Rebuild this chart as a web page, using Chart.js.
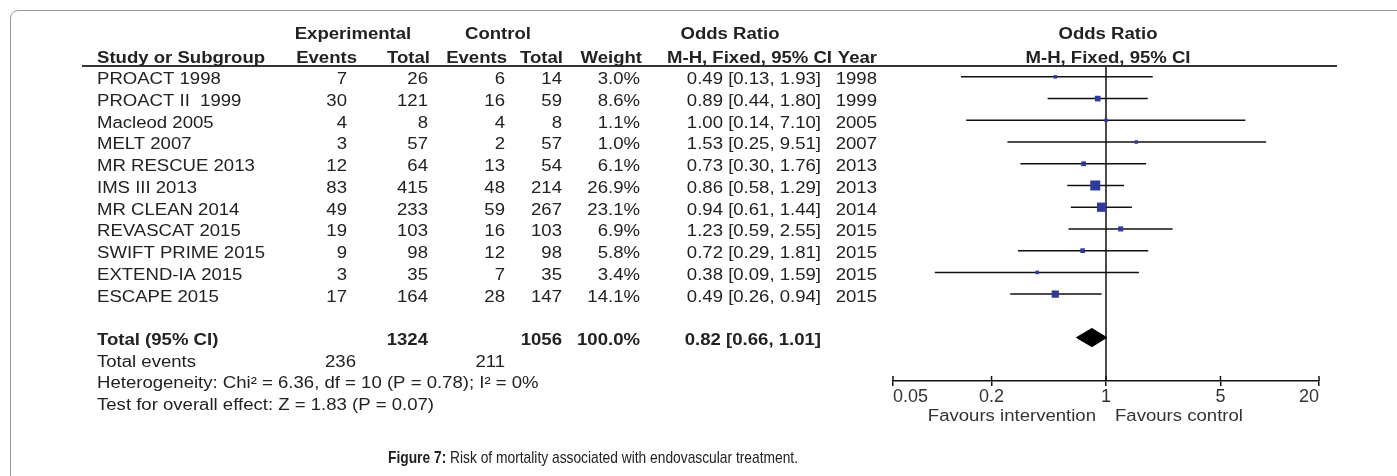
<!DOCTYPE html>
<html>
<head>
<meta charset="utf-8">
<script src="https://cdn.jsdelivr.net/npm/chart.js@4.4.1/dist/chart.umd.min.js"></script>
<style>
  html, body { margin: 0; padding: 0; background: #fff; }
  #wrap { position: relative; width: 1397px; height: 476px; overflow: hidden; }
  #frame { position: absolute; left: 10px; top: 10px; width: 1420px; height: 500px;
           border: 1px solid #9a9a9a; border-radius: 8px; }
  #forest { position: absolute; left: 0; top: 0; }
</style>
</head>
<body>
<div id="wrap">
  <div id="frame"></div>
  <canvas id="forest" width="1397" height="476"></canvas>
</div>
<script>
const studies = ['PROACT 1998', 'PROACT II  1999', 'Macleod 2005', 'MELT 2007', 'MR RESCUE 2013',
  'IMS III 2013', 'MR CLEAN 2014', 'REVASCAT 2015', 'SWIFT PRIME 2015', 'EXTEND-IA 2015', 'ESCAPE 2015']
const expEvents = [7, 30, 4, 3, 12, 83, 49, 19, 9, 3, 17]
const expTotal = [26, 121, 8, 57, 64, 415, 233, 103, 98, 35, 164]
const ctrlEvents = [6, 16, 4, 2, 13, 48, 59, 16, 12, 7, 28]
const ctrlTotal = [14, 59, 8, 57, 54, 214, 267, 103, 98, 35, 147]
const weights = [3.0, 8.6, 1.1, 1.0, 6.1, 26.9, 23.1, 6.9, 5.8, 3.4, 14.1]
const oddsRatio = [0.49, 0.89, 1.00, 1.53, 0.73, 0.86, 0.94, 1.23, 0.72, 0.38, 0.49]
const ciLow = [0.13, 0.44, 0.14, 0.25, 0.30, 0.58, 0.61, 0.59, 0.29, 0.09, 0.26]
const ciHigh = [1.93, 1.80, 7.10, 9.51, 1.76, 1.29, 1.44, 2.55, 1.81, 1.59, 0.94]
const years = [1998, 1999, 2005, 2007, 2013, 2013, 2014, 2015, 2015, 2015, 2015]

// pooled result: [OR, low, high]
const pooled = [0.82, 0.66, 1.01]
const pooledTotals = [1324, 1056]
const pooledEvents = [236, 211]
const heterogeneity = 'Heterogeneity: Chi\u00b2 = 6.36, df = 10 (P = 0.78); I\u00b2 = 0%'
const overallEffect = 'Test for overall effect: Z = 1.83 (P = 0.07)'

const xTicks = [0.05, 0.2, 1, 5, 20]

const FONT = '"Liberation Sans", Arial, sans-serif'
const INK = '#222'
const totalRow = studies.length + 1

function txt(ctx, s, x, y, align, bold, size, sx, color) {
  ctx.save()
  ctx.font = (bold ? 'bold ' : '') + size + 'px ' + FONT
  ctx.fillStyle = color || INK
  ctx.textBaseline = 'middle'
  ctx.textAlign = align
  ctx.translate(x, y)
  ctx.scale(sx, 1)
  ctx.fillText(s, 0, 0)
  ctx.restore()
}

const f2 = v => v.toFixed(2)
const orText = (o, l, h) => f2(o) + ' [' + f2(l) + ', ' + f2(h) + ']'

// table, headers and footers drawn next to the plot
const forestTable = {
  id: 'forestTable',
  afterDraw(chart) {
    const ctx = chart.ctx
    const ys = chart.scales.y
    const xs = chart.scales.x
    const area = chart.chartArea
    const rowY = r => ys.getPixelForValue(r) + 3
    const S = 16, K = 1.16

    // header line
    ctx.save()
    ctx.strokeStyle = '#333'
    ctx.lineWidth = 2
    ctx.beginPath()
    ctx.moveTo(82, area.top)
    ctx.lineTo(1337, area.top)
    ctx.stroke()
    // upper half of the axis ticks
    ctx.strokeStyle = '#111'
    ctx.lineWidth = 1.5
    xTicks.forEach(t => {
      const px = xs.getPixelForValue(t)
      ctx.beginPath()
      ctx.moveTo(px, area.bottom - 5)
      ctx.lineTo(px, area.bottom)
      ctx.stroke()
    })
    ctx.restore()

    const h1 = ys.getPixelForValue(-2.1) + 3
    const h2 = rowY(-1)
    txt(ctx, 'Experimental', 353, h1, 'center', true, S, K)
    txt(ctx, 'Control', 498, h1, 'center', true, S, K)
    txt(ctx, 'Odds Ratio', 730, h1, 'center', true, S, K)
    txt(ctx, 'Odds Ratio', 1108, h1, 'center', true, S, K)
    txt(ctx, 'Study or Subgroup', 97, h2, 'left', true, S, K)
    txt(ctx, 'Events', 357, h2, 'right', true, S, K)
    txt(ctx, 'Total', 430, h2, 'right', true, S, K)
    txt(ctx, 'Events', 507, h2, 'right', true, S, K)
    txt(ctx, 'Total', 563, h2, 'right', true, S, K)
    txt(ctx, 'Weight', 642, h2, 'right', true, S, K)
    txt(ctx, 'M-H, Fixed, 95% CI', 667, h2, 'left', true, S, K)
    txt(ctx, 'Year', 877, h2, 'right', true, S, K)
    txt(ctx, 'M-H, Fixed, 95% CI', 1108, h2, 'center', true, S, K)

    studies.forEach((s, i) => {
      const y = rowY(i)
      txt(ctx, s, 97, y, 'left', false, S, K)
      txt(ctx, String(expEvents[i]), 347, y, 'right', false, S, K)
      txt(ctx, String(expTotal[i]), 428, y, 'right', false, S, K)
      txt(ctx, String(ctrlEvents[i]), 505, y, 'right', false, S, K)
      txt(ctx, String(ctrlTotal[i]), 562, y, 'right', false, S, K)
      txt(ctx, weights[i].toFixed(1) + '%', 640, y, 'right', false, S, K)
      txt(ctx, orText(oddsRatio[i], ciLow[i], ciHigh[i]), 821, y, 'right', false, S, K)
      txt(ctx, String(years[i]), 877, y, 'right', false, S, K)
    })

    const yt = rowY(totalRow)
    txt(ctx, 'Total (95% CI)', 97, yt, 'left', true, S, K)
    txt(ctx, String(pooledTotals[0]), 428, yt, 'right', true, S, K)
    txt(ctx, String(pooledTotals[1]), 562, yt, 'right', true, S, K)
    txt(ctx, '100.0%', 640, yt, 'right', true, S, K)
    txt(ctx, orText(pooled[0], pooled[1], pooled[2]), 821, yt, 'right', true, S, K)

    const ye = rowY(totalRow + 1)
    txt(ctx, 'Total events', 97, ye, 'left', false, S, K)
    txt(ctx, String(pooledEvents[0]), 356, ye, 'right', false, S, K)
    txt(ctx, String(pooledEvents[1]), 505, ye, 'right', false, S, K)
    txt(ctx, heterogeneity, 97, rowY(totalRow + 2), 'left', false, S, K)
    txt(ctx, overallEffect, 97, rowY(totalRow + 3), 'left', false, S, K)

    const one = xs.getPixelForValue(1)
    txt(ctx, 'Favours intervention', one - 10, area.bottom + 36, 'right', false, S, K, '#333')
    txt(ctx, 'Favours control', one + 9, area.bottom + 36, 'left', false, S, K, '#333')

    // caption, squeezed to its width in the reference
    ctx.save()
    const a = 'Figure 7:', b = ' Risk of mortality associated with endovascular treatment.'
    ctx.font = 'bold 17px ' + FONT
    const wa = ctx.measureText(a).width
    ctx.font = '17px ' + FONT
    const wb = ctx.measureText(b).width
    const k = 410 / (wa + wb)
    ctx.restore()
    txt(ctx, a, 388, 458, 'left', true, 17, k)
    txt(ctx, b, 388 + wa * k, 458, 'left', false, 17, k)
  }
}

const sqSide = w => Math.max(3.5, 10 * Math.sqrt(w / 26.9))

const ciSets = studies.map((s, i) => ({
  data: [{x: ciLow[i], y: i}, {x: ciHigh[i], y: i}],
  showLine: true,
  borderColor: '#111',
  borderWidth: 1.5,
  pointRadius: 0,
  order: 2
}))

new Chart(document.getElementById('forest'), {
  type: 'scatter',
  data: {
    datasets: [
      {
        data: oddsRatio.map((v, i) => ({x: v, y: i})),
        pointStyle: 'rect',
        pointRadius: c => sqSide(weights[c.dataIndex]) / Math.SQRT2,
        backgroundColor: '#2e3b9b',
        borderWidth: 0,
        order: 0
      },
      {
        // pooled diamond
        data: [
          {x: pooled[1], y: totalRow},
          {x: pooled[0], y: totalRow - 0.42},
          {x: pooled[2], y: totalRow},
          {x: pooled[0], y: totalRow + 0.42},
          {x: pooled[1], y: totalRow}
        ],
        showLine: true,
        fill: 'shape',
        backgroundColor: '#000',
        borderColor: '#000',
        borderWidth: 1,
        pointRadius: 0,
        order: 0
      },
      ...ciSets,
      {
        // line of no effect
        data: [{x: 1, y: -0.5}, {x: 1, y: totalRow + 2}],
        showLine: true,
        borderColor: '#111',
        borderWidth: 1.5,
        pointRadius: 0,
        order: 3
      }
    ]
  },
  options: {
    responsive: false,
    animation: false,
    layout: { padding: { left: 893, right: 78, top: 66, bottom: 0 } },
    plugins: { legend: { display: false }, tooltip: { enabled: false } },
    scales: {
      x: {
        type: 'logarithmic',
        min: 0.05,
        max: 20,
        afterBuildTicks: s => { s.ticks = xTicks.map(v => ({value: v})) },
        afterFit: s => { s.height = 95 },
        ticks: {
          align: 'inner',
          autoSkip: false,
          maxRotation: 0,
          padding: 0,
          color: '#333',
          font: { family: FONT, size: 18 },
          callback: v => String(v)
        },
        grid: { drawOnChartArea: false, drawTicks: true, tickLength: 5, color: '#111', lineWidth: 1.5 },
        border: { display: true, color: '#111', width: 1.5 }
      },
      y: {
        type: 'linear',
        reverse: true,
        min: -0.5,
        max: totalRow + 2,
        display: false
      }
    }
  },
  plugins: [forestTable]
})
</script>
</body>
</html>
